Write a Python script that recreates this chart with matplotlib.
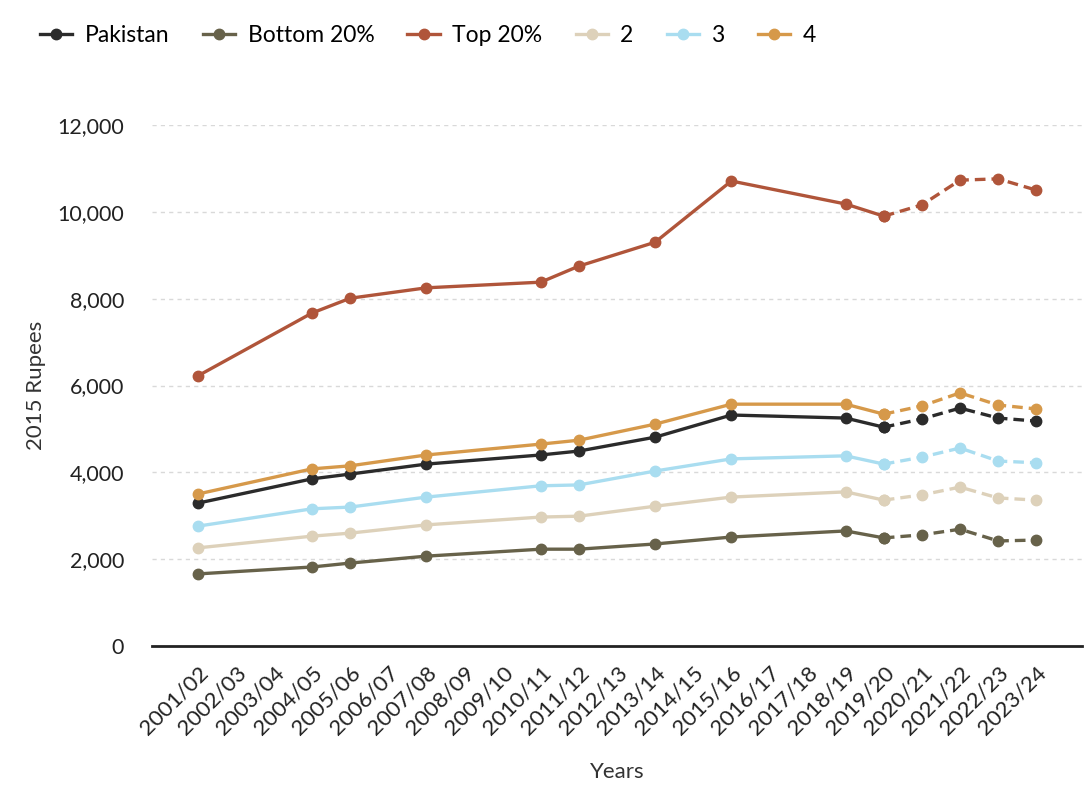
import matplotlib.pyplot as plt
import numpy as np

plt.rcParams['font.family'] = ['Lato', 'DejaVu Sans']

years = ["2001/02", "2002/03", "2003/04", "2004/05", "2005/06", "2006/07", "2007/08",
         "2008/09", "2009/10", "2010/11", "2011/12", "2012/13", "2013/14", "2014/15",
         "2015/16", "2016/17", "2017/18", "2018/19", "2019/20", "2020/21", "2021/22",
         "2022/23", "2023/24"]

# survey years that have data
obs_years = ["2001/02", "2004/05", "2005/06", "2007/08", "2010/11", "2011/12", "2013/14",
             "2015/16", "2018/19", "2019/20", "2020/21", "2021/22", "2022/23", "2023/24"]
split_year = "2019/20"  # dashed after this

pakistan = [3290, 3850, 3960, 4190, 4400, 4490, 4810, 5320, 5250, 5040, 5230, 5480, 5250, 5180]
bottom20 = [1660, 1820, 1910, 2070, 2230, 2230, 2350, 2510, 2650, 2490, 2560, 2690, 2420, 2440]
top20 = [6220, 7670, 8010, 8250, 8380, 8750, 9300, 10710, 10180, 9900, 10160, 10730, 10760, 10500]
q2 = [2260, 2530, 2600, 2790, 2970, 2990, 3220, 3430, 3550, 3360, 3480, 3660, 3410, 3360]
q3 = [2760, 3160, 3200, 3430, 3690, 3710, 4030, 4310, 4380, 4190, 4350, 4560, 4260, 4220]
q4 = [3500, 4080, 4150, 4400, 4650, 4740, 5110, 5570, 5570, 5340, 5530, 5830, 5550, 5460]

series = [("Pakistan", pakistan, "#2b2b2b"),
          ("Bottom 20%", bottom20, "#67624a"),
          ("Top 20%", top20, "#b0553a"),
          ("2", q2, "#ddd1ba"),
          ("3", q3, "#a9ddf0"),
          ("4", q4, "#d6994a")]

fig = plt.figure(figsize=(10.92, 8.01), dpi=100)
ax = fig.add_axes([152 / 1092, 1 - 646 / 801, (1082 - 152) / 1092, (646 - 125) / 801])

xpos = np.array([years.index(y) for y in obs_years])
k = obs_years.index(split_year)

handles = []
for name, vals, col in series:
    vals = np.array(vals)
    h, = ax.plot(xpos[:k + 1], vals[:k + 1], color=col, lw=2.4, marker="o", ms=7.5,
                 label=name, clip_on=False, zorder=3)
    ax.plot(xpos[k:], vals[k:], color=col, lw=2.4, ls=(0, (3.2, 1.8)), marker="o", ms=7.5,
            clip_on=False, zorder=3)
    handles.append(h)

ax.set_xlim(-1.2, 23.2)
ax.set_ylim(0, 12000)
ax.set_yticks(np.arange(0, 12001, 2000))
ax.set_yticklabels([f"{v:,}" for v in range(0, 12001, 2000)])
ax.set_xticks(range(len(years)))
ax.set_xticklabels(years, rotation=45, ha="right", rotation_mode="anchor")
ax.tick_params(axis="both", length=0, colors="#222222")
ax.tick_params(axis="x", pad=12, labelsize=16)
ax.tick_params(axis="y", pad=20, labelsize=15.5)

ax.yaxis.grid(True, color="#d9d9d9", ls=(0, (3, 3)), lw=1)
ax.set_axisbelow(True)
for s in ["top", "right", "left"]:
    ax.spines[s].set_visible(False)
ax.spines["bottom"].set_color("#222222")
ax.spines["bottom"].set_linewidth(2)

ax.set_xlabel("Years", fontsize=16, color="#333333", labelpad=17)
ax.set_ylabel("2015 Rupees", fontsize=16, color="#333333", labelpad=8)

fig.legend(handles=handles, loc="upper left", bbox_to_anchor=(0.018, 0.995), ncol=6,
           frameon=False, fontsize=16.5, handlelength=1.4, columnspacing=1.45,
           handletextpad=0.55)

fig.savefig("out.png", dpi=100)
